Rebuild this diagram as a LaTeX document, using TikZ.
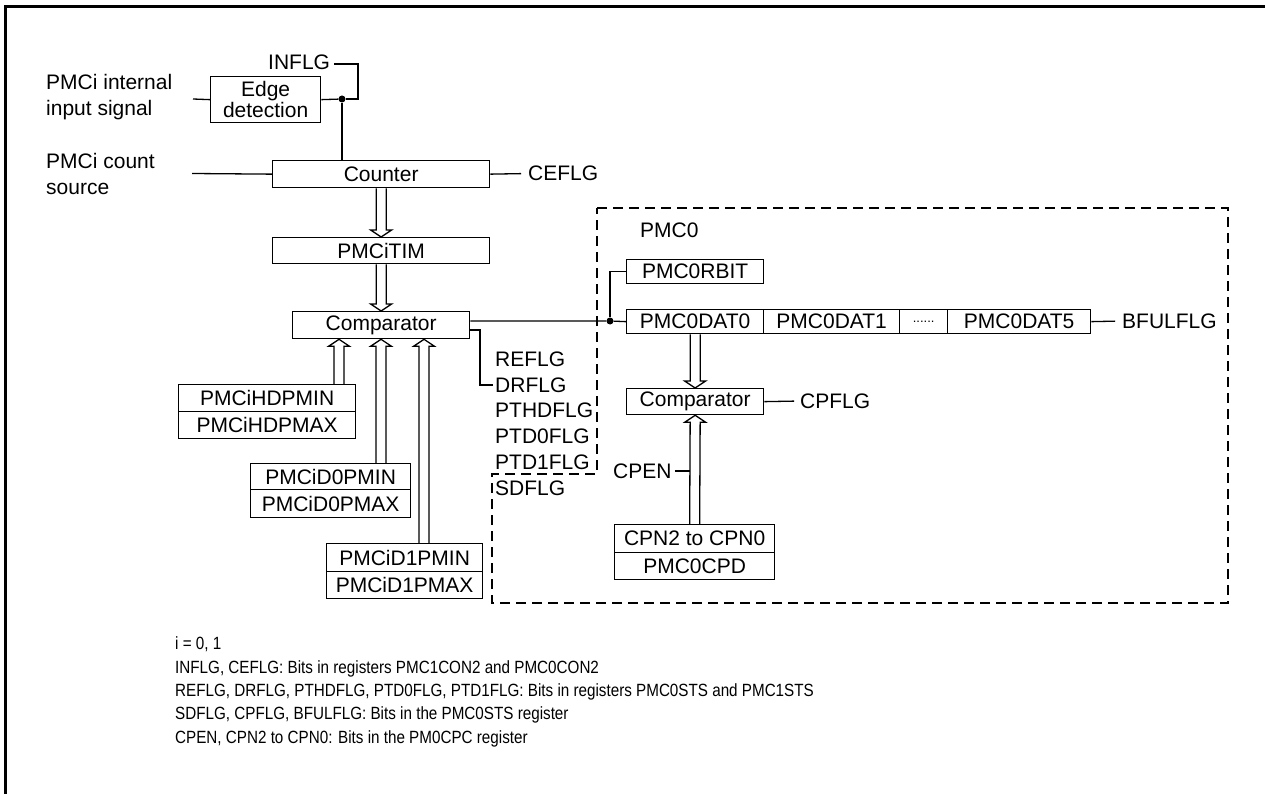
\documentclass[tikz,border=0pt]{standalone}
\usepackage{fontspec}
\setmainfont{Liberation Sans}
\newfontfamily\notefont[FakeStretch=0.86]{Liberation Sans}
\usetikzlibrary{calc}
\newcommand\harrow[3]{\draw[ln, line join=miter] ($(#1)+(-5,0)$) -- ($(#2)+(-5,#3)$) -- ($(#2)+(-10.5,#3)$) -- (#2) -- ($(#2)+(10.5,#3)$) -- ($(#2)+(5,#3)$) -- ($(#1)+(5,0)$);}
\begin{document}
\begin{tikzpicture}[x=1pt,y=-1pt,
  font=\fontsize{21}{26}\selectfont,
  ln/.style={line width=1.3pt},
  box/.style={draw, line width=1.3pt, inner sep=0pt, anchor=north west},
  lbl/.style={inner sep=0pt, anchor=west},
  note/.style={inner sep=0pt, anchor=base west, font=\notefont\fontsize{17.7}{22}\selectfont},
  dsh/.style={line width=2.5pt, dash pattern=on 10pt off 6pt},
  dot/.style={circle, fill, inner sep=0pt, minimum size=7pt}]
\useasboundingbox (0,0) rectangle (1265,794);
% frame
\draw[line width=3pt] (5.5,794) -- (5.5,6.5) -- (1265,6.5);

% top-left inputs
\node[lbl, align=left] (inlbl) at (46,97) {PMCi internal\\input signal};
\node[box, minimum width=110, minimum height=46, align=center, font=\fontsize{21}{21}\selectfont] (edge) at (210,76) {Edge\\detection};
\coordinate (inA) at (193,99);
\draw[ln] (inA) -- (edge.west);
\node[lbl] (inflg) at (268,62) {INFLG};
\node[dot] (dot1) at (342,99) {};
\coordinate (infa) at (358,64);
\draw[ln] (edge.east) -- (dot1);
\draw[ln, shorten <=4pt] (inflg.east |- infa) -- (infa) |- (dot1);

\node[box, minimum width=217, minimum height=27] (cnt) at (272,160) {Counter};
\draw[ln] (dot1) -- (dot1 |- cnt.north);
\node[lbl, align=left] (cslbl) at (46,174) {PMCi count\\source};
\coordinate (csA) at (192,173.5);
\draw[ln] (csA) -- (cnt.west);
\node[lbl] (ceflg) at (528,173.5) {CEFLG};
\draw[ln, shorten >=7pt] (cnt.east) -- (ceflg.west);

\node[box, minimum width=217, minimum height=26] (tim) at (272,237) {PMCiTIM};
\harrow{cnt.south}{tim.north}{-7}
\node[box, minimum width=177, minimum height=27] (cmp) at (292,311) {Comparator};
\harrow{tim.south}{cmp.north}{-7}

% left registers
\node[box, minimum width=177, minimum height=27] (hdmin) at (178,384) {PMCiHDPMIN};
\node[box, minimum width=177, minimum height=27] (hdmax) at (178,411) {PMCiHDPMAX};
\node[box, minimum width=160, minimum height=26] (d0min) at (250,463) {PMCiD0PMIN};
\node[box, minimum width=160, minimum height=28] (d0max) at (250,489) {PMCiD0PMAX};
\node[box, minimum width=156, minimum height=28] (d1min) at (326,543) {PMCiD1PMIN};
\node[box, minimum width=156, minimum height=27] (d1max) at (326,571) {PMCiD1PMAX};
\coordinate (ax1) at (339,0);
\coordinate (ax2) at (381,0);
\coordinate (ax3) at (424,0);
\coordinate (h1s) at (hdmin.north -| ax1);
\coordinate (h1t) at (cmp.south -| ax1);
\coordinate (h2s) at (d0min.north -| ax2);
\coordinate (h2t) at (cmp.south -| ax2);
\coordinate (h3s) at (d1min.north -| ax3);
\coordinate (h3t) at (cmp.south -| ax3);
\harrow{h1s}{h1t}{7}
\harrow{h2s}{h2t}{7}
\harrow{h3s}{h3t}{7}

% flags
\node[lbl] (reflg) at (495,359) {REFLG};
\node[lbl] (drflg) at (495,385) {DRFLG};
\node[lbl] (pthd) at (495,410) {PTHDFLG};
\node[lbl] (ptd0) at (495,436) {PTD0FLG};
\node[lbl] (ptd1) at (495,462) {PTD1FLG};
\node[lbl] (sdflg) at (495,488) {SDFLG};

% PMC0 region
\draw[dsh] (597,208) -- (1228,208) -- (1228,603) -- (492,603) -- (492,474) -- (597,474) -- cycle;
\node[lbl] (pmc0) at (640,230) {PMC0};

\node[box, minimum width=137, minimum height=24] (rbit) at (626,259) {PMC0RBIT};
\node[box, minimum width=137, minimum height=24] (dat0) at (626,309) {PMC0DAT0};
\node[box, minimum width=136, minimum height=24] (dat1) at (763,309) {PMC0DAT1};
\node[box, minimum width=48, minimum height=24] (datd) at (899,309) {\fontsize{13}{13}\selectfont ......};
\node[box, minimum width=143, minimum height=24] (dat5) at (947,309) {PMC0DAT5};
\node[lbl] (bful) at (1122,321) {BFULFLG};
\draw[ln, shorten >=7pt] (dat5.east) -- (bful.west);

\coordinate (o1) at ($(cmp.north east)+(0,10)$);
\coordinate (o2) at ($(cmp.north east)+(0,19)$);
\coordinate (bend) at (480,0);
\node[dot] (dot2) at (610,321) {};
\draw[ln] (o1) -- (dot2) -- (dat0.west);
\draw[ln] (dot2) |- (rbit.west);
\draw[ln, shorten >=2pt] (o2) -- (o2 -| bend) |- (drflg.west);

\node[box, minimum width=137, minimum height=26] (cmp2) at (626,388) {Comparator};
\harrow{dat0.south}{cmp2.north}{-7}
\node[lbl] (cpflg) at (800,401) {CPFLG};
\draw[ln, shorten >=6pt] (cmp2.east) -- (cpflg.west);

\node[box, minimum width=160, minimum height=28] (cpn) at (614,524) {CPN2 to CPN0};
\node[box, minimum width=160, minimum height=27] (cpd) at (614,552) {PMC0CPD};
\harrow{cpn.north}{cmp2.south}{7}
\node[lbl] (cpen) at (613,471) {CPEN};
\coordinate (cpx) at ($(cmp2.south)+(-5,0)$);
\draw[ln, shorten <=3pt] (cpen.east) -- (cpen.east -| cpx);

% notes
\node[note] (n1) at (175,649) {i = 0, 1};
\node[note] (n2) at (175,673) {INFLG, CEFLG: Bits in registers PMC1CON2 and PMC0CON2};
\node[note] (n3) at (175,696) {REFLG, DRFLG, PTHDFLG, PTD0FLG, PTD1FLG: Bits in registers PMC0STS and PMC1STS};
\node[note] (n4) at (175,719) {SDFLG, CPFLG, BFULFLG: Bits in the PMC0STS register};
\node[note] (n5) at (175,743) {CPEN, CPN2 to CPN0: Bits in the PM0CPC register};
\end{tikzpicture}
\end{document}
